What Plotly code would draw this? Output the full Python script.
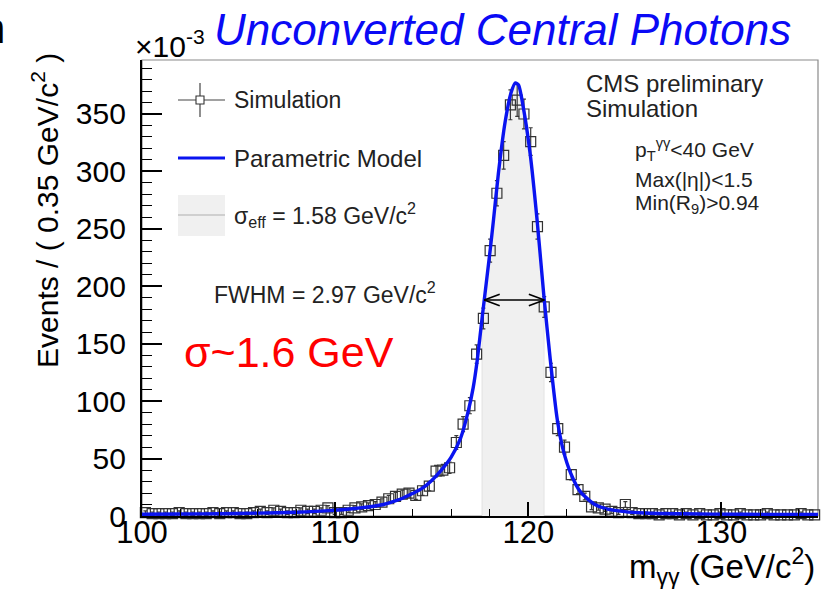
import plotly.graph_objects as go
import numpy as np

# ---------------- data ----------------
bin_lo = 100.0
bin_width = 0.35
n_bins = 100
bin_centers = [round(bin_lo + bin_width * (i + 0.5), 3) for i in range(n_bins)]

sim_values = [3, 2, 2, 2, 2, 3, 2, 2, 2, 2, 3, 2, 3, 3, 2, 2, 3, 4, 3, 5,
              4, 3, 3, 5, 4, 4, 5, 7, 3,
              3, 5, 7, 8, 9, 10, 12, 15, 17, 19, 20, 18, 22, 26, 39, 40, 42, 64, 80, 96,
              141, 172, 231, 281, 314, 358, 362, 350, 326, 252, 182, 125, 76, 60, 36, 23, 17, 8, 7, 6, 4, 3, 10,
              3, 2, 2, 2, 1, 2, 2, 1, 2, 1, 2, 1, 1, 2, 1, 1, 2, 1, 1, 1, 2, 1, 1, 1, 1, 2, 1, 1]
sim_errors = [1.5, 1.5, 1.5, 1.5, 1.5, 1.5, 1.5, 1.5, 1.5, 1.5, 1.5, 1.5, 1.5, 1.5, 1.5, 1.5, 1.5, 2, 1.5, 2,
              2, 1.5, 1.5, 2, 2, 2, 2, 2, 1.5,
              1.5, 2, 2, 2.5, 2.5, 2.5, 3, 3, 3.5, 3.5, 3.5, 3.5, 4, 4, 5, 5, 5, 6, 6.5, 7,
              8, 9, 10, 11, 12, 13, 14, 13, 12, 11, 9, 8, 6, 6, 4.5, 3.5, 3, 2.5, 2, 2, 2, 1.5, 2.5,
              1.5, 1.5, 1.5, 1.5, 1, 1.5, 1.5, 1, 1.5, 1, 1.5, 1, 1, 1.5, 1, 1, 1.5, 1, 1, 1, 1.5, 1, 1, 1, 1, 1.5, 1, 1]

model_x = [100, 102, 104, 106, 108, 109, 110, 111, 112, 112.5, 113, 113.5, 114, 114.5, 115, 115.5,
           116, 116.5, 116.9, 117.15, 117.36, 117.62, 118.03, 118.2, 118.45, 118.8, 119.1, 119.33,
           119.5, 119.74, 120.1, 120.46, 120.8, 121.14, 121.5, 121.8, 122.2, 122.7, 123.4, 124,
           125, 126, 128, 131, 135]
model_y = [1.5, 1.7, 2.0, 2.5, 3.3, 4.0, 5.0, 6.5, 8.5, 10, 12.5, 15.5, 19.5, 24, 31, 40,
           51, 68, 92, 112, 136, 174, 232, 258, 298, 343, 368, 377,
           375, 356, 315, 257, 193, 136, 84, 58, 37, 21, 10.5, 6.5,
           3.8, 2.6, 1.9, 1.5, 1.3]

sigma_eff_lo = 117.62
sigma_eff_hi = 120.80
fwhm_lo = 117.72
fwhm_hi = 120.83
fwhm_level = 188

x_range = [100, 135]
y_range = [0, 397]
x_ticks = [100, 110, 120, 130]
y_ticks = [0, 50, 100, 150, 200, 250, 300, 350]

# ---------------- geometry helpers (pixels -> paper) ----------------
W, H = 829, 589
L, R, T, B = 142, 11, 60, 73
PW, PH = W - L - R, H - T - B


def px(x):
    return (x - L) / PW


def py(y):
    return (H - B - y) / PH


FONT = "Liberation Sans, Arial, Helvetica, sans-serif"
MODEL_BLUE = "#0a14f0"

fig = go.Figure()

# sigma_eff band (area under model between the limits)
mx = np.array(model_x, dtype=float)
my = np.array(model_y, dtype=float)
inside = (mx >= sigma_eff_lo) & (mx <= sigma_eff_hi)
band_x = list(mx[inside])
band_top = list(my[inside])
fig.add_trace(go.Scatter(
    x=band_x, y=band_top, fill="tozeroy", fillcolor="#f0f0f0",
    line=dict(color="rgba(0,0,0,0)", width=0, shape="spline", smoothing=0.6),
    mode="lines", hoverinfo="skip", showlegend=False))

# simulation points
fig.add_trace(go.Scatter(
    x=bin_centers, y=sim_values, mode="markers",
    marker=dict(symbol="square-open", size=10, color="#333333", line=dict(width=1.2, color="#333333")),
    error_y=dict(type="data", array=sim_errors, visible=True, color="#3a3a3a", thickness=1.2, width=2),
    cliponaxis=False, showlegend=False))

# parametric model
fig.add_trace(go.Scatter(
    x=model_x, y=model_y, mode="lines",
    line=dict(color=MODEL_BLUE, width=3.4, shape="spline", smoothing=0.6),
    showlegend=False, hoverinfo="skip"))

shapes = []
# frame
shapes.append(dict(type="rect", xref="paper", yref="paper", x0=0, x1=1, y0=0, y1=1,
                   line=dict(color="#8a8a8a", width=1.2), layer="below"))
# sigma_eff band edges
for xe, ye in [(band_x[0], band_top[0]), (band_x[-1], band_top[-1])]:
    shapes.append(dict(type="line", xref="x", yref="y", x0=xe, x1=xe, y0=0, y1=ye,
                       line=dict(color="#d2d2d2", width=1.2), layer="below"))

# FWHM arrow (data coords)
adx, ady = 0.8, 5
for (x0, x1, y0, y1) in [(fwhm_lo, fwhm_hi, fwhm_level, fwhm_level),
                         (fwhm_lo, fwhm_lo + adx, fwhm_level, fwhm_level + ady),
                         (fwhm_lo, fwhm_lo + adx, fwhm_level, fwhm_level - ady),
                         (fwhm_hi, fwhm_hi - adx, fwhm_level, fwhm_level + ady),
                         (fwhm_hi, fwhm_hi - adx, fwhm_level, fwhm_level - ady)]:
    shapes.append(dict(type="line", xref="x", yref="y", x0=x0, x1=x1, y0=y0, y1=y1,
                       line=dict(color="black", width=1.6)))

# legend: simulation marker
shapes.append(dict(type="line", xref="paper", yref="paper", x0=px(178), x1=px(225), y0=py(100), y1=py(100),
                   line=dict(color="#444444", width=1.2)))
shapes.append(dict(type="line", xref="paper", yref="paper", x0=px(200), x1=px(200), y0=py(83), y1=py(117),
                   line=dict(color="#444444", width=1.2)))
shapes.append(dict(type="rect", xref="paper", yref="paper", x0=px(196), x1=px(204), y0=py(104), y1=py(96),
                   line=dict(color="#333333", width=1.1), fillcolor="white"))
# legend: model line
shapes.append(dict(type="line", xref="paper", yref="paper", x0=px(178), x1=px(225), y0=py(158), y1=py(158),
                   line=dict(color=MODEL_BLUE, width=3)))
# legend: sigma_eff box
shapes.append(dict(type="rect", xref="paper", yref="paper", x0=px(178), x1=px(225), y0=py(236), y1=py(195),
                   line=dict(width=0), fillcolor="#f0f0f0"))
shapes.append(dict(type="line", xref="paper", yref="paper", x0=px(178), x1=px(225), y0=py(215), y1=py(215),
                   line=dict(color="#c4c4c4", width=1.5)))

ann = []


def text(s, x, y, size, color="black", xanchor="left", yanchor="middle", angle=0, family=FONT):
    ann.append(dict(text=s, xref="paper", yref="paper", x=px(x), y=py(y), showarrow=False,
                    xanchor=xanchor, yanchor=yanchor, textangle=angle, borderpad=0,
                    font=dict(family=family, size=size, color=color)))


text("<i>Unconverted Central Photons</i>", 502, 30, 44, color="#0a0af5", xanchor="center")
text("n", 6, 28, 42, xanchor="right")
text("×10<sup>-3</sup>", 134, 44, 30)
text("Simulation", 233, 100, 23, color="#222222")
text("Parametric Model", 233, 158, 24, color="#222222")
text("σ<sub>eff</sub> = 1.58 GeV/c<sup>2</sup>", 233, 215, 23, color="#222222")
text("CMS preliminary", 585, 83, 24, color="#222222")
text("Simulation", 585, 109, 24, color="#222222")
text("p<sub>T</sub><sup>γγ</sup>&lt;40 GeV", 634, 150, 21, color="#222222")
text("Max(|η|)&lt;1.5", 634, 179, 21, color="#222222")
text("Min(R<sub>9</sub>)&gt;0.94", 634, 204, 21, color="#222222")
text("FWHM = 2.97 GeV/c<sup>2</sup>", 213, 293, 23, color="#222222")
text("σ~1.6 GeV", 183, 352, 43, color="#ff0000")
text("Events / ( 0.35 GeV/c<sup>2</sup> )", 45, 210, 30, angle=-90, xanchor="center")
text("m<sub>γγ</sub> (GeV/c<sup>2</sup>)", 816, 566, 33, xanchor="right")

fig.update_layout(
    width=W, height=H, margin=dict(l=L, r=R, t=T, b=B, pad=0),
    paper_bgcolor="white", plot_bgcolor="white",
    shapes=shapes, annotations=ann, showlegend=False,
    xaxis=dict(range=x_range, tickvals=x_ticks, ticks="inside", ticklen=14, tickwidth=1.5,
               tickcolor="black", showgrid=False, zeroline=False, showline=True, linecolor="black",
               linewidth=2.2, tickfont=dict(family=FONT, size=31, color="black"), ticklabelstandoff=-12,
               minor=dict(dtick=2, tick0=100, ticks="inside", ticklen=7, tickwidth=1.2, tickcolor="black", showgrid=False)),
    yaxis=dict(range=y_range, tickvals=y_ticks, ticks="inside", ticklen=20, tickwidth=1.5,
               tickcolor="black", showgrid=False, zeroline=False, showline=True, linecolor="black",
               linewidth=2.2, tickfont=dict(family=FONT, size=30, color="black"), ticklabelstandoff=8,
               minor=dict(dtick=10, tick0=0, ticks="inside", ticklen=10, tickwidth=1.2, tickcolor="black", showgrid=False)),
)

fig.write_html("out.html")
